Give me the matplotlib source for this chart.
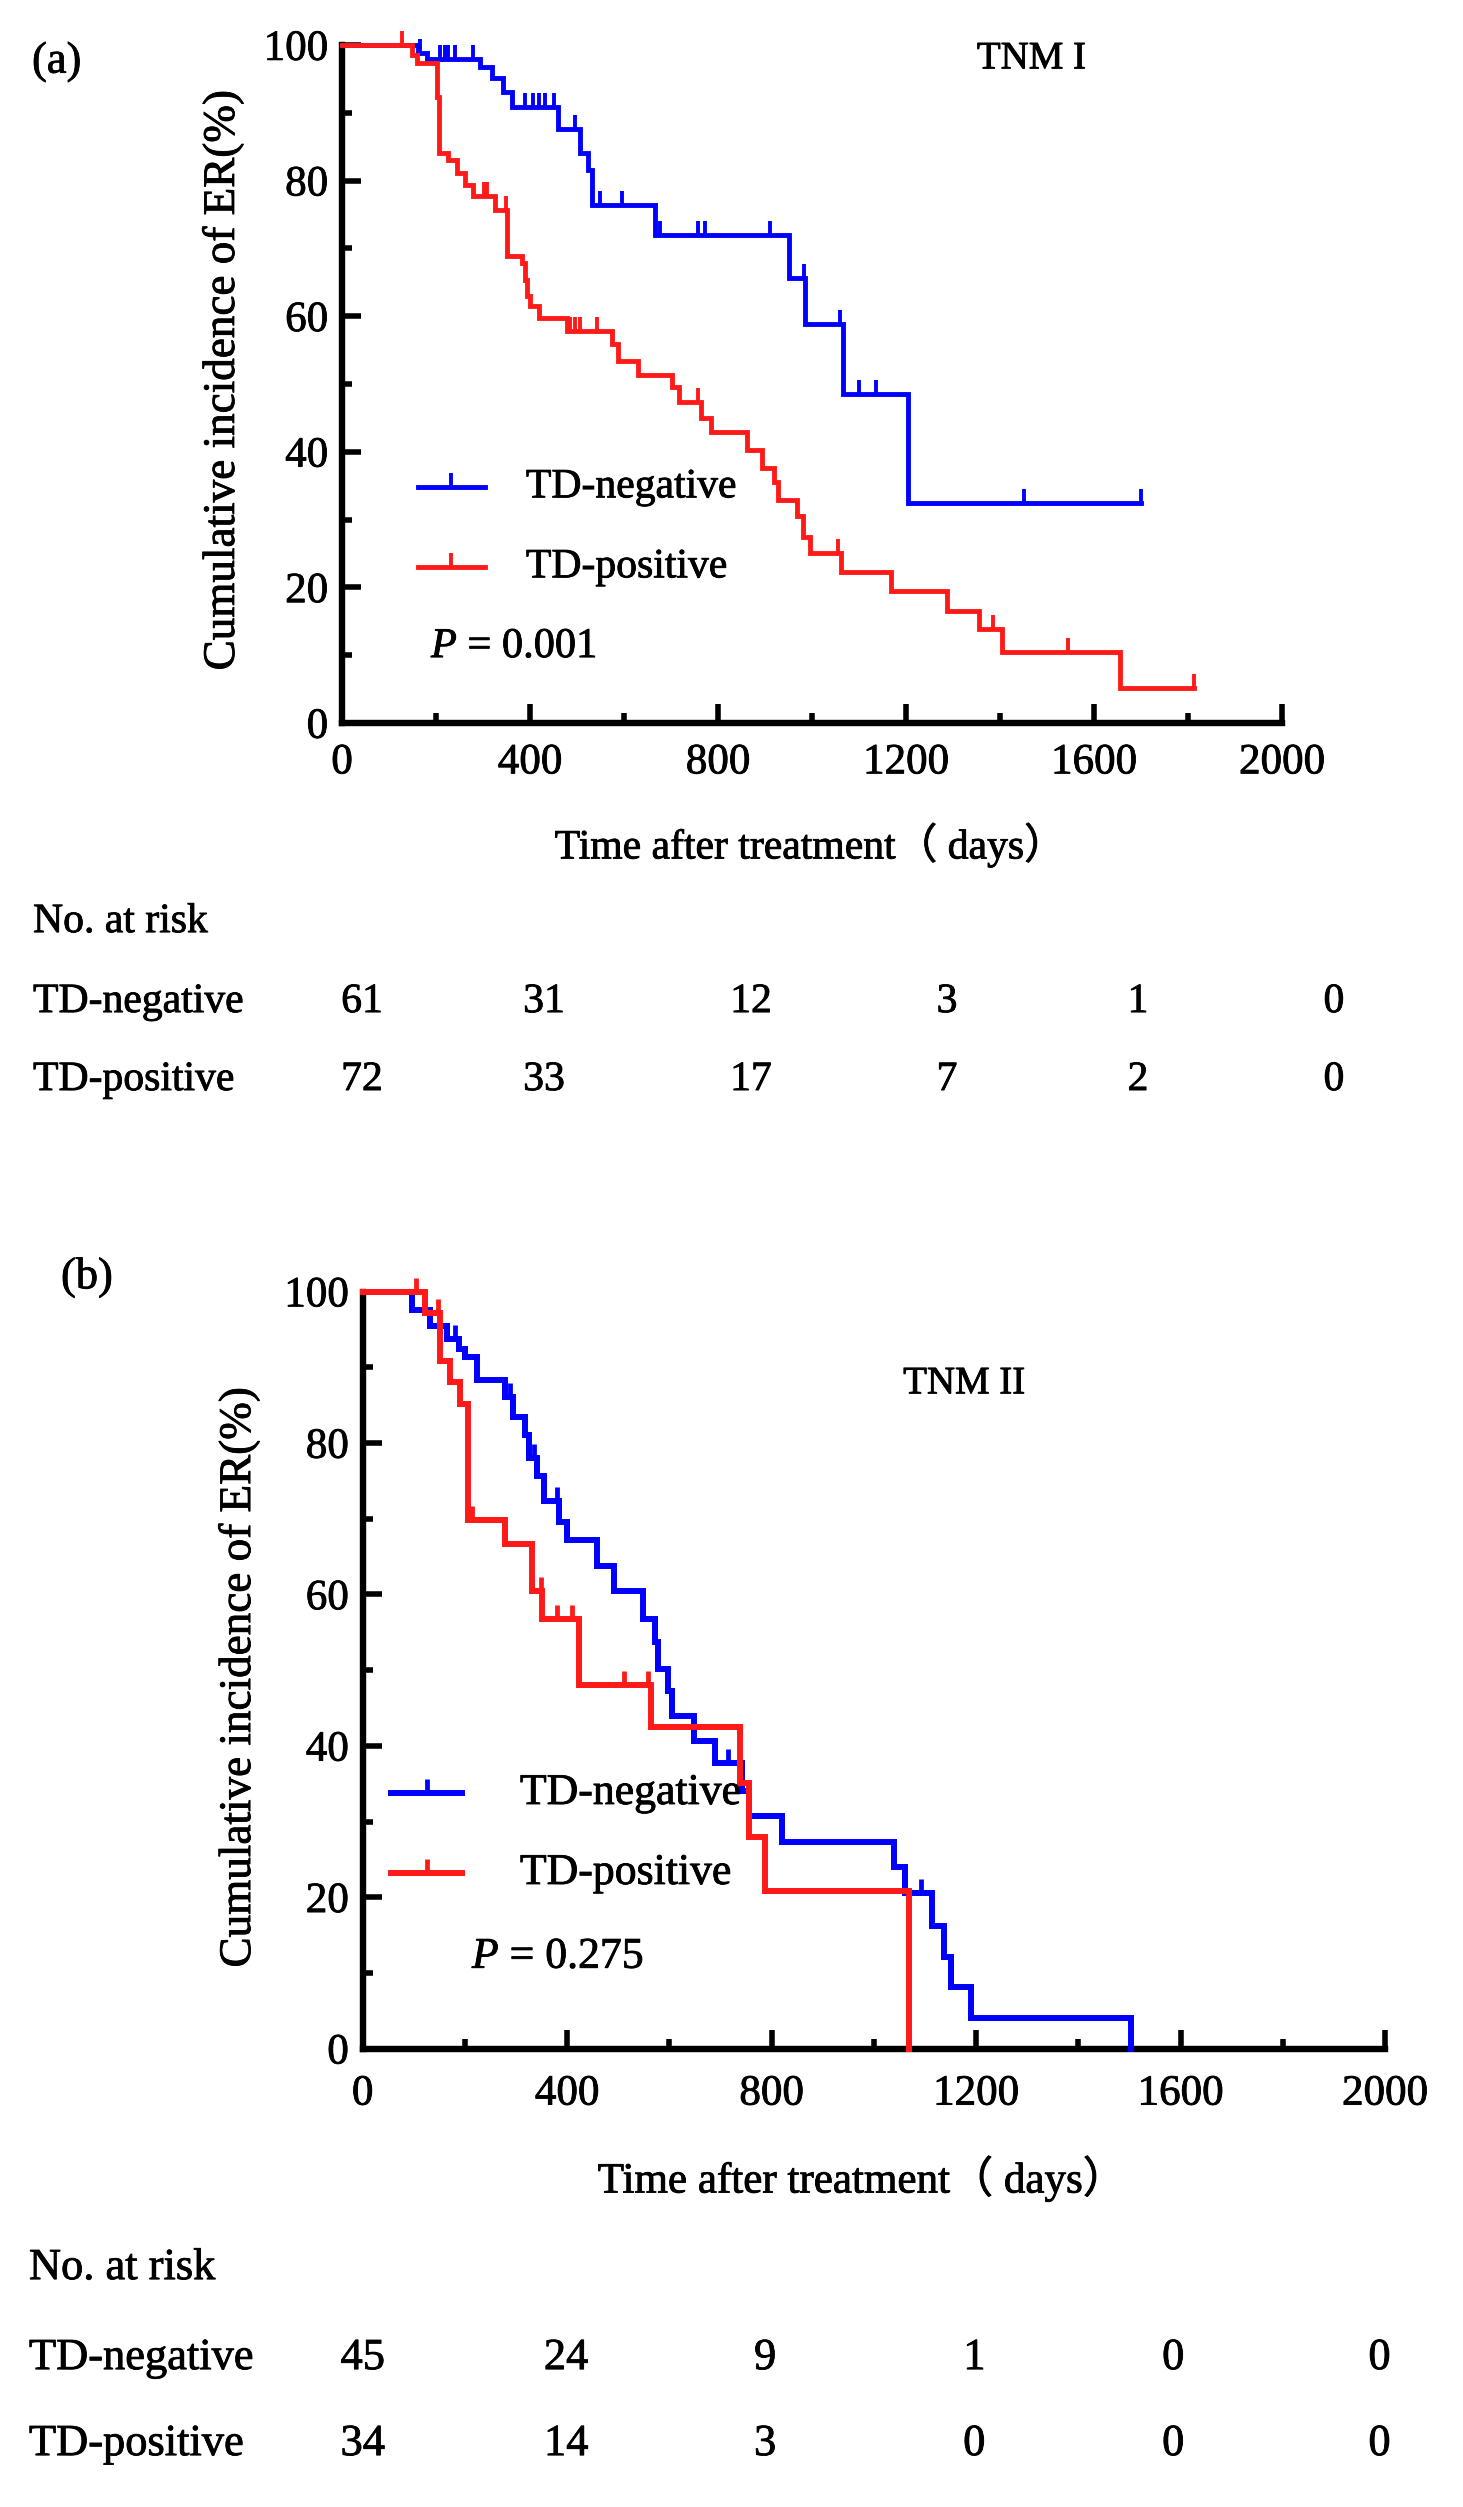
import numpy as np
import matplotlib
matplotlib.use("Agg")
import matplotlib.pyplot as plt
import matplotlib.patheffects as pe
from matplotlib.lines import Line2D
from matplotlib.ticker import MultipleLocator

plt.rcParams['font.family'] = ['Liberation Serif', 'Noto Sans CJK SC']
plt.rcParams['mathtext.fontset'] = 'custom'
plt.rcParams['mathtext.it'] = 'Liberation Serif:italic'
plt.rcParams['mathtext.rm'] = 'Liberation Serif'

BLUE = '#0000ff'
RED = '#ff1a1a'
TEXT_FX = [pe.withStroke(linewidth=0.6, foreground='black')]

# ---------------- data: panel (a) TNM I ----------------
a_neg_t = [0, 162, 180, 294, 318, 343, 361, 460, 506, 524, 531, 666, 950, 985, 1066, 1205, 1700]
a_neg_v = [100, 98.8, 98.0, 96.8, 95.2, 93.1, 90.9, 87.7, 84.1, 81.6, 76.4, 72.0, 65.6, 58.8, 48.6, 32.4, 32.4]
a_neg_cens = [165, 208, 219, 225, 240, 279, 389, 407, 418, 432, 450, 496, 549, 595, 677, 758, 772, 911, 982, 1060, 1100, 1137, 1452, 1700]

a_pos_t = [0, 148, 159, 201, 207, 226, 244, 262, 279, 326, 350, 382, 389, 394, 400, 418, 478, 574, 588,
           630, 703, 717, 763, 784, 862, 893, 920, 927, 968, 981, 995, 1061, 1167, 1288, 1355, 1404, 1655, 1812]
a_pos_v = [100, 98.5, 97.3, 92.4, 84.1, 83.1, 81.1, 79.4, 77.7, 75.7, 68.9, 67.9, 65.4, 63.0, 61.5, 59.8, 57.8, 55.9, 53.4,
           51.3, 49.5, 47.3, 45.0, 42.9, 40.3, 37.6, 35.6, 32.9, 30.5, 27.5, 25.1, 22.3, 19.5, 16.5, 13.9, 10.5, 5.2, 5.2]
a_pos_cens = [127, 301, 308, 348, 485, 496, 506, 542, 758, 1055, 1384, 1545, 1812]

a_risk_neg = [61, 31, 12, 3, 1, 0]
a_risk_pos = [72, 33, 17, 7, 2, 0]
a_pvalue = "0.001"

# ---------------- data: panel (b) TNM II ----------------
b_neg_t = [0, 96, 132, 165, 188, 200, 224, 279, 295, 318, 325, 341, 354, 384, 400, 459, 492, 548, 572, 577,
           597, 605, 649, 690, 743, 755, 820, 1040, 1060, 1113, 1138, 1150, 1191, 1504]
b_neg_v = [100, 97.6, 95.4, 93.7, 92.4, 91.3, 88.3, 86.1, 83.5, 81.1, 78.0, 75.7, 72.4, 69.6, 67.2, 63.7, 60.4, 56.7, 53.7, 50.2,
           47.2, 43.9, 40.7, 37.7, 34.0, 30.7, 27.3, 24.0, 20.6, 16.2, 12.1, 8.2, 4.1, 0]
b_neg_cens = [181, 289, 335, 380, 715, 1093]

b_pos_t = [0, 122, 152, 171, 191, 207, 279, 331, 351, 423, 564, 739, 755, 788, 1069]
b_pos_v = [100, 97.2, 90.9, 88.0, 85.2, 69.8, 66.7, 60.4, 56.7, 48.0, 42.5, 35.1, 28.0, 20.8, 0]
b_pos_cens = [105, 147, 214, 349, 380, 409, 512, 558]

b_risk_neg = [45, 24, 9, 1, 0, 0]
b_risk_pos = [34, 14, 3, 0, 0, 0]
b_pvalue = "0.275"

x_ticks = [0, 400, 800, 1200, 1600, 2000]
y_ticks = [0, 20, 40, 60, 80, 100]
group_labels = ["TD-negative", "TD-positive"]


def step_value(t_list, v_list, t):
    idx = np.searchsorted(np.asarray(t_list), t, side='right') - 1
    return v_list[max(idx, 0)]


fig = plt.figure(figsize=(14.63, 25.07), dpi=100)

TICK_FS = 31
XLAB_FS = 30
YLAB_FS = 32.5


def ftext(x, y, s, **kw):
    return fig.text(x, y, s, path_effects=TEXT_FX, **kw)


def draw_panel(rect, curves, lw, tnm_text, tnm_pos, xpad):
    ax = fig.add_axes(rect)
    for t, v, cens, col in curves:
        ax.step(t, v, where='post', color=col, lw=lw, solid_joinstyle='miter', clip_on=False, zorder=3)
        cy = [step_value(t, v, c) for c in cens]
        ax.plot(cens, cy, linestyle='none', marker=2, markersize=10, markeredgewidth=lw * 0.8,
                color=col, clip_on=False, zorder=3)
    ax.set_xlim(0, 2000)
    ax.set_ylim(0, 100)
    ax.set_xticks(x_ticks)
    ax.set_yticks(y_ticks)
    ax.xaxis.set_minor_locator(MultipleLocator(200))
    ax.yaxis.set_minor_locator(MultipleLocator(10))
    for s in ['top', 'right']:
        ax.spines[s].set_visible(False)
    for s in ['left', 'bottom']:
        ax.spines[s].set_linewidth(4.6)
    ax.tick_params(which='major', direction='in', length=14, width=4.0, labelsize=TICK_FS, pad=10)
    ax.tick_params(which='minor', direction='in', length=7, width=4.0)
    ax.tick_params(axis='x', which='major', pad=xpad)
    for lab in ax.get_xticklabels() + ax.get_yticklabels():
        lab.set_path_effects(TEXT_FX)
    ftext(tnm_pos[0], tnm_pos[1], tnm_text, fontsize=28, ha='center', va='center')
    return ax


def draw_legend(x0, x1, xt, ys, lw, fs):
    for y, col, lab in zip(ys, [BLUE, RED], group_labels):
        fig.add_artist(Line2D([x0, x1], [y, y], color=col, lw=lw, transform=fig.transFigure))
        fig.add_artist(Line2D([(x0 + x1) / 2], [y], color=col, marker=2, markersize=10,
                              markeredgewidth=lw * 0.8, linestyle='none', transform=fig.transFigure))
        ftext(xt, y, lab, fontsize=fs, ha='left', va='center')


def draw_table(xlab, xs, y_title, y_rows, rows, fs):
    ftext(xlab, y_title, "No. at risk", fontsize=fs, ha='left', va='baseline')
    for y, lab, vals in zip(y_rows, group_labels, rows):
        ftext(xlab, y, lab, fontsize=fs, ha='left', va='baseline')
        for x, n in zip(xs, vals):
            ftext(x, y, str(n), fontsize=fs, ha='center', va='baseline')


# ---------------- panel (a) ----------------
axa = draw_panel([0.2338, 0.7116, 0.6425, 0.2704],
                 [(a_neg_t, a_neg_v, a_neg_cens, BLUE), (a_pos_t, a_pos_v, a_pos_cens, RED)],
                 3.5, "TNM I", (0.705, 0.9765), 15)
ftext(0.0219, 0.9753, "(a)", fontsize=32, ha='left', va='center')
ftext(0.5537, 0.6629, "Time after treatment（ days）", fontsize=XLAB_FS, ha='center', va='center')
ftext(0.1524, 0.8484, "Cumulative incidence of ER(%)", fontsize=YLAB_FS, ha='center', va='center',
      rotation=90)
draw_legend(0.2857, 0.3315, 0.3595, [0.8057, 0.7738], 3.5, 30)
ftext(0.2946, 0.7419, r"$P$ = " + a_pvalue, fontsize=30.5, ha='left', va='center')
draw_table(0.0226, [0.2474, 0.3718, 0.5133, 0.6473, 0.7778, 0.9118],
           0.6282, [0.5963, 0.5652], [a_risk_neg, a_risk_pos], 30)

# ---------------- panel (b) ----------------
axb = draw_panel([0.2479, 0.1828, 0.6988, 0.3020],
                 [(b_neg_t, b_neg_v, b_neg_cens, BLUE), (b_pos_t, b_pos_v, b_pos_cens, RED)],
                 4.3, "TNM II", (0.659, 0.448), 19)
ftext(0.0417, 0.4905, "(b)", fontsize=32, ha='left', va='center')
ftext(0.5885, 0.1310, "Time after treatment（ days）", fontsize=XLAB_FS + 1, ha='center', va='center')
ftext(0.1634, 0.331, "Cumulative incidence of ER(%)", fontsize=YLAB_FS, ha='center', va='center',
      rotation=90)
draw_legend(0.2673, 0.3158, 0.3554, [0.2848, 0.2529], 4.3, 31.5)
ftext(0.3226, 0.2194, r"$P$ = " + b_pvalue, fontsize=31.5, ha='left', va='center')
draw_table(0.0198, [0.248, 0.387, 0.523, 0.666, 0.802, 0.943],
           0.0909, [0.0550, 0.0207], [b_risk_neg, b_risk_pos], 32)

fig.savefig("out.png", dpi=100, facecolor='white')
